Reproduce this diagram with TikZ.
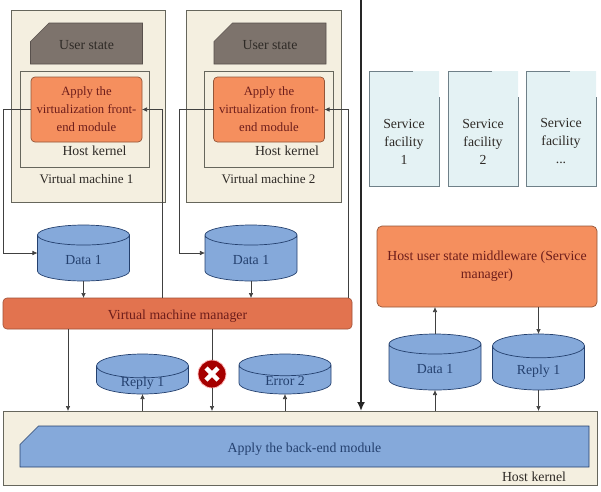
\documentclass[tikz,border=0pt]{standalone}
\usepackage{fontspec}
\setmainfont{Liberation Serif}
\usetikzlibrary{arrows.meta,positioning,calc,shapes.geometric,shapes.misc}

\definecolor{cream}{HTML}{F4EFE0}
\definecolor{frameline}{HTML}{66665C}
\definecolor{stategray}{HTML}{7D736C}
\definecolor{frontorange}{HTML}{F58F5E}
\definecolor{vmmred}{HTML}{E2734F}
\definecolor{storeblue}{HTML}{85A9DA}
\definecolor{storeline}{HTML}{24406E}
\definecolor{svcfill}{HTML}{E4F2F4}
\definecolor{svcline}{HTML}{6F8088}
\definecolor{inktext}{HTML}{2E2A26}

% keeps a label from pushing its shape taller
\newcommand{\flatlabel}[1]{\raisebox{-0.42em}[1pt][0pt]{#1}}

\begin{document}
\begin{tikzpicture}[
    x=1pt, y=1pt,
    every node/.style={inner sep=0pt, outer sep=0pt, font=\fontsize{13.8}{18}\selectfont, text=inktext},
    vmbox/.style={draw=frameline, line width=0.9pt, fill=cream, minimum width=154.5pt, minimum height=192pt, anchor=north west},
    kernelbox/.style={draw=frameline, line width=0.7pt, minimum width=129pt, minimum height=96pt},
    statebox/.style={
        chamfered rectangle,
        chamfered rectangle corners=north west,
        chamfered rectangle xsep=19pt,
        chamfered rectangle ysep=18pt,
        draw=stategray!70!black, fill=stategray, line width=0.6pt,
        minimum width=112pt, minimum height=41pt
    },
    frontbox/.style={
        draw=frontorange!60!black, fill=frontorange, rounded corners=4pt, line width=0.7pt,
        align=center, minimum width=111pt, minimum height=65pt,
        font=\fontsize{12.7}{18}\selectfont, text=inktext!70!red
    },
    store/.style={
        cylinder, shape border rotate=90, shape aspect=0.55, anchor=shape center,
        draw=storeline, fill=storeblue, line width=0.7pt,
        minimum width=92pt, text=storeline
    },
    svcbox/.style={
        chamfered rectangle,
        chamfered rectangle corners=north east,
        chamfered rectangle xsep=26pt,
        chamfered rectangle ysep=26pt,
        fill=svcfill, minimum width=70pt, minimum height=115pt
    },
    svcedge/.style={draw=svcline, line width=0.8pt},
    svctext/.style={align=center},
    line/.style={-{Latex[length=5pt,width=4.5pt]}, draw=black!75, line width=0.6pt},
    heavy/.style={-{Latex[length=9pt,width=8pt]}, draw=black!85, line width=2pt}
]

\useasboundingbox (0,0) rectangle (601,-491);

% virtual machines on the left
\node[vmbox] (vm1) at (11,-10) {};
\node[vmbox, right=21pt of vm1] (vm2) {};

\node[statebox] (state1) at ($(vm1.north west)+(75.5,-33.5)$) {\flatlabel{User state}};
\node[statebox] (state2) at ($(vm2.north west)+(83.5,-33.5)$) {\flatlabel{User state}};

\node[kernelbox, below right=61pt and 9pt of vm1.north west] (kernel1) {};
\node[kernelbox, below right=61pt and 18pt of vm2.north west] (kernel2) {};

\node[frontbox, below right=6pt and 11pt of kernel1.north west] (front1) {Apply the\\virtualization front-\\end module};
\node[frontbox, below right=6pt and 9pt of kernel2.north west] (front2) {Apply the\\virtualization front-\\end module};

\node[below=3.5pt of front1, xshift=8pt] (kerneltext1) {Host kernel};
\node[below=3.5pt of front2, xshift=18pt] (kerneltext2) {Host kernel};
\node[below=7.5pt of kernel1, xshift=2pt, font=\fontsize{13.1}{18}\selectfont] (vmtext1) {Virtual machine 1};
\node[below=7.5pt of kernel2, xshift=-.5pt, font=\fontsize{13.1}{18}\selectfont] (vmtext2) {Virtual machine 2};

\node[store, minimum height=56pt] (data1) at ($(vm1.south west)+(72.5,-51)$) {\flatlabel{Data 1}};
\node[store, minimum height=56pt] (data2) at ($(vm2.south west)+(64.5,-51)$) {\flatlabel{Data 1}};

\node[draw=vmmred!70!black, fill=vmmred, rounded corners=4pt, line width=0.6pt,
      minimum width=349pt, minimum height=31pt, anchor=north west, text=inktext!70!red] (vmm) at (3,-298) {\flatlabel{Virtual machine manager}};

\node[store, minimum height=40pt] (reply1) at ($(vmm.south west)+(139.5,-45)$) {\flatlabel{Reply 1}};
\node[store, minimum height=40pt] (error2) at ($(reply1.shape center)+(142.5,0)$) {\flatlabel{Error 2}};

% kernel band along the bottom
\node[draw=frameline, line width=0.9pt, fill=cream, minimum width=594pt, minimum height=74pt, anchor=north west] (host) at (3,-411) {};
\node[statebox, draw=storeline, fill=storeblue, text=storeline, minimum width=569pt, minimum height=41pt] (backend) at (304.5,-446.5) {\flatlabel{Apply the back-end module}};
\node[below=4.5pt of backend.south east, anchor=north east, xshift=-23pt] (kerneltext3) {Host kernel};

% service side
\node[svcbox, anchor=north west] (svc1) at (369,-71) {};
\node[svcbox, right=9pt of svc1] (svc2) {};
\node[svcbox, right=8pt of svc2] (svc3) {};
\node[svctext] (svctext1) at ($(svc1.center)+(0,-13)$) {Service\\facility\\1};
\node[svctext] (svctext2) at ($(svc2.center)+(0,-13)$) {Service\\facility\\2};
\node[svctext] (svctext3) at ($(svc3.center)+(0,-13)$) {Service\\facility\\...};

\draw[svcedge] ($(svc1.north west)+(44,0)$) -- (svc1.north west) -- (svc1.south west) -- (svc1.south east) -- ($(svc1.north east)+(0,-26)$);
\draw[svcedge] ($(svc2.north west)+(44,0)$) -- (svc2.north west) -- (svc2.south west) -- (svc2.south east) -- ($(svc2.north east)+(0,-26)$);
\draw[svcedge] ($(svc3.north west)+(44,0)$) -- (svc3.north west) -- (svc3.south west) -- (svc3.south east) -- ($(svc3.north east)+(0,-26)$);

\node[draw=frontorange!60!black, fill=frontorange, rounded corners=5pt, line width=0.7pt, align=center,
      minimum width=220pt, minimum height=81pt, anchor=north west, text=inktext!70!red] (middle) at (377,-226) {Host user state middleware (Service\\manager)};

\node[store, minimum height=56pt] (data3) at ($(middle.south west)+(58,-55)$) {\flatlabel{Data 1}};
\node[store, minimum height=56pt] (reply3) at ($(data3.shape center)+(103.5,0)$) {\flatlabel{Reply 1}};

% stop mark on the failing path
\node[circle, fill=red!65!black, draw=red!25, line width=0.8pt, minimum size=28pt] (stop) at (212,-374) {};
\draw[white, line width=4.5pt] ($(stop)+(-6,-6)$) -- ($(stop)+(6,6)$);
\draw[white, line width=4.5pt] ($(stop)+(-6,6)$) -- ($(stop)+(6,-6)$);

\coordinate[right=159pt of vmm.north west] (rise1);
\coordinate[right=345pt of vmm.north west] (rise2);
\coordinate[right=65pt of vmm.south west] (drop1);
\coordinate (divider) at (361,0);

\draw[line] (front1.west) -- ++(-28,0) |- (data1.shape center -| data1.west);
\draw[line] (front2.west) -- ++(-34,0) |- (data2.shape center -| data2.west);
\draw[line] (rise1) |- (front1.east);
\draw[line] (rise2) |- (front2.east);

\draw[line] (data1.south) -- (data1.south |- vmm.north);
\draw[line] (data2.south) -- (data2.south |- vmm.north);

\draw[line] (drop1) -- (drop1 |- host.north);
\draw[line, -] (stop |- vmm.south) -- (stop.north);
\draw[line] (stop.south) -- (stop |- host.north);
\draw[line] (reply1.south |- host.north) -- (reply1.south);
\draw[line] (error2.south |- host.north) -- (error2.south);

\draw[line] (data3.north) -- (data3.north |- middle.south);
\draw[line] (reply3.north |- middle.south) -- (reply3.north);
\draw[line] (data3.south |- host.north) -- (data3.south);
\draw[line] (reply3.south) -- (reply3.south |- host.north);

\draw[heavy] (divider) -- (divider |- host.north);

\end{tikzpicture}
\end{document}
